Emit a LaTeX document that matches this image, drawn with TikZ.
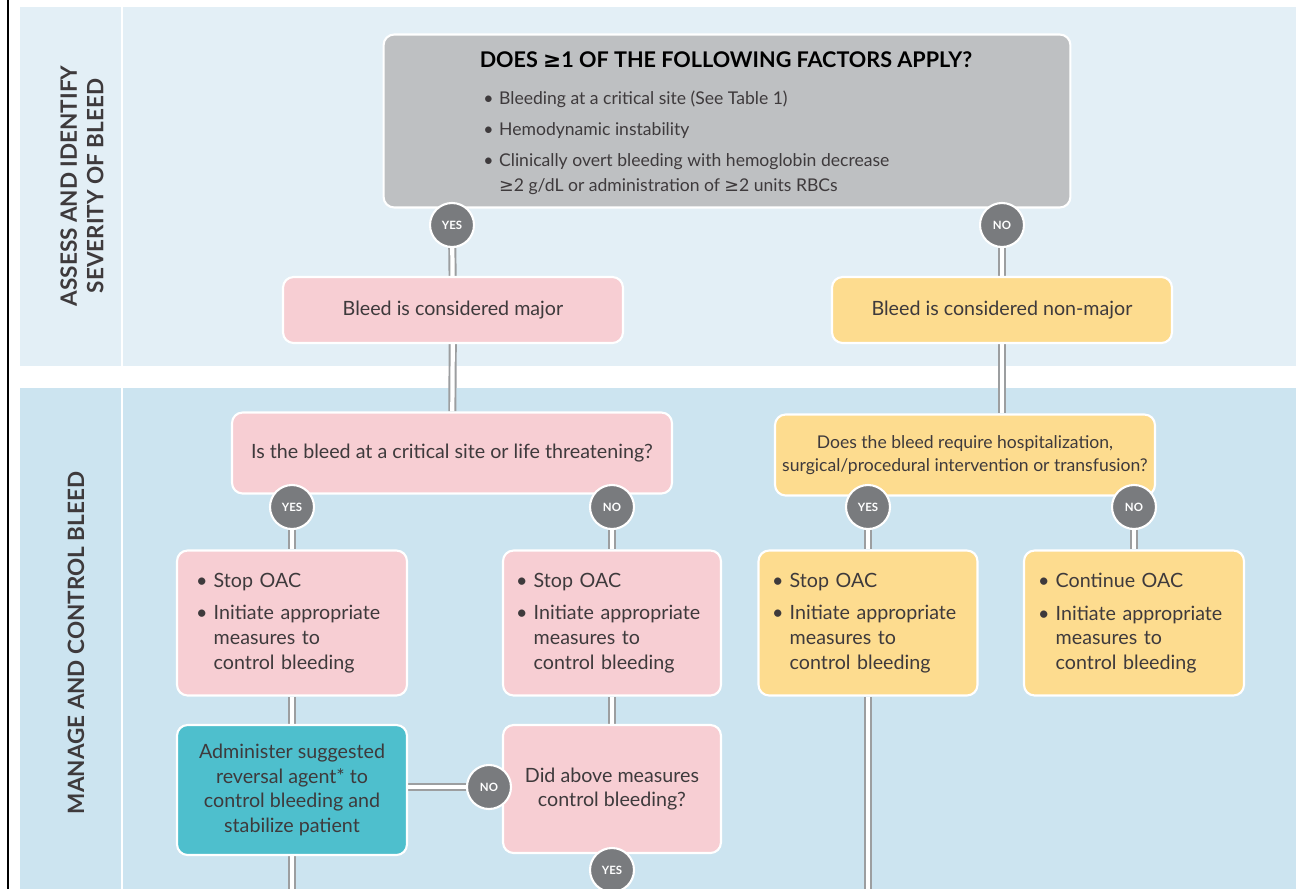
\documentclass[tikz,border=0pt]{standalone}
\usepackage{fontspec}
\setmainfont{Lato}
\newfontfamily\symfont{DejaVu Sans}
\usetikzlibrary{positioning}

% layers: colour bands at the back, then the double links, then the boxes
\pgfdeclarelayer{bands}
\pgfdeclarelayer{links}
\pgfsetlayers{bands,links,main}

\definecolor{bandtop}{HTML}{E3EFF6}
\definecolor{bandlow}{HTML}{CCE4F0}
\definecolor{factorgray}{HTML}{BEC0C2}
\definecolor{majorpink}{HTML}{F7CED3}
\definecolor{minoryellow}{HTML}{FDDC8F}
\definecolor{reverseteal}{HTML}{4EBFCD}
\definecolor{answergray}{HTML}{797B7E}
\definecolor{linkgray}{HTML}{9C9EA0}
\definecolor{textdark}{HTML}{3E3A3C}

\newcommand{\gte}{{\symfont ≥}}
\newcommand{\bitem}[1]{\makebox[0.9em][l]{\textbullet}#1}
\newcommand{\bcont}[1]{\hspace*{0.9em}#1}

\begin{document}
\begin{tikzpicture}[
    x=0.02cm, y=-0.02cm,
    box/.style={draw=white, line width=1.2pt, rounded corners=6pt, align=center, text=textdark,
      font=\fontsize{11.2}{14}\selectfont, inner sep=0pt},
    listbox/.style={box, align=left, text width=3.84cm, minimum width=4.6cm, minimum height=2.9cm},
    answer/.style={circle, fill=answergray, draw=white, line width=1.2pt, text=white,
      font=\fontsize{6.5}{7}\selectfont\bfseries, inner sep=0pt, minimum size=0.88cm},
    link/.style={draw=linkgray, line width=1.1pt, double=white, double distance=2.4pt},
    lane/.style={rotate=90, align=center, text=textdark, font=\fontsize{12.8}{15}\selectfont\bfseries}
  ]
    \useasboundingbox (0,0) rectangle (1296,889);
    \clip (0,0) rectangle (1296,889);

    % swim lanes
    \begin{pgfonlayer}{bands}
      \fill[white] (0,0) rectangle (1296,889);
      \fill[bandtop] (20,7) rectangle (1296,366);
      \fill[bandlow] (20,388) rectangle (1296,889);
      \draw[white, line width=1.5pt] (122,7) -- (122,366) (122,388) -- (122,889);
      \draw[black, line width=1.6pt] (8,0) -- (8,889);
    \end{pgfonlayer}
    \node[lane] (assessLane) at (82,186) {ASSESS AND IDENTIFY\\SEVERITY OF BLEED};
    \node[lane] (manageLane) at (76,643) {MANAGE AND CONTROL BLEED};

    % severity
    \node[box, fill=factorgray, minimum width=13.74cm, minimum height=3.46cm] (factors) at (727,121) {};
    \node[text=black, font=\fontsize{12.3}{14}\selectfont\bfseries] (factorsTitle) at (726,60)
      {DOES \gte1 OF THE FOLLOWING FACTORS APPLY?};
    \node[anchor=north west, align=left, text=textdark, font=\fontsize{10}{14}\selectfont, inner sep=0pt] (factorsList) at (483,91)
      {\bitem{Bleeding at a critical site (See Table 1)}\\[3.5pt]
       \bitem{Hemodynamic instability}\\[3.5pt]
       \bitem{Clinically overt bleeding with hemoglobin decrease}\\
       \bcont{\gte2 g/dL or administration of \gte2 units RBCs}};
    \node[answer] (yesA) at (452,225) {YES};
    \node[answer] (noA) at (1002,225) {NO};
    \node[box, fill=majorpink, minimum width=6.8cm, minimum height=1.32cm] (major) at (453,310) {Bleed is considered major};
    \node[box, fill=minoryellow, minimum width=6.8cm, minimum height=1.32cm] (nonmajor) at (1002,310) {Bleed is considered non-major};

    % management of a major bleed
    \node[box, fill=majorpink, minimum width=8.8cm, minimum height=1.62cm] (critical) at (452,453)
      {Is the bleed at a critical site or life threatening?};
    \node[answer] (yesB) at (292,507) {YES};
    \node[answer] (noB) at (612,507) {NO};
    \node[listbox, fill=majorpink] (stopA) at (292,623)
      {\bitem{Stop OAC}\\[4.5pt] \bitem{Initiate appropriate}\\ \bcont{measures to}\\ \bcont{control bleeding}};
    \node[listbox, fill=majorpink, minimum width=4.36cm] (stopB) at (612,623)
      {\bitem{Stop OAC}\\[4.5pt] \bitem{Initiate appropriate}\\ \bcont{measures to}\\ \bcont{control bleeding}};
    \node[box, fill=reverseteal, minimum width=4.6cm, minimum height=2.6cm] (reversal) at (292,790)
      {Administer suggested\\reversal agent* to\\control bleeding and\\stabilize patient};
    \node[box, fill=majorpink, minimum width=4.36cm, minimum height=2.56cm] (control) at (612,789)
      {Did above measures\\control bleeding?};
    \node[answer] (noD) at (489,787) {NO};
    \node[answer] (yesD) at (612,870) {YES};

    % management of a non-major bleed
    \node[box, fill=minoryellow, minimum width=7.6cm, minimum height=1.62cm, font=\fontsize{10}{13}\selectfont] (hospital) at (965,455)
      {Does the bleed require hospitalization,\\surgical/procedural intervention or transfusion?};
    \node[answer] (yesC) at (868,507) {YES};
    \node[answer] (noC) at (1134,507) {NO};
    \node[listbox, fill=minoryellow, minimum width=4.38cm] (stopC) at (868,623)
      {\bitem{Stop OAC}\\[4.5pt] \bitem{Initiate appropriate}\\ \bcont{measures to}\\ \bcont{control bleeding}};
    \node[listbox, fill=minoryellow, minimum width=4.4cm] (continueC) at (1134,623)
      {\bitem{Continue OAC}\\[4.5pt] \bitem{Initiate appropriate}\\ \bcont{measures to}\\ \bcont{control bleeding}};

    \coordinate (reversalOut) at (292,900);
    \coordinate (stopCOut) at (868,900);

    \begin{pgfonlayer}{links}
      \draw[link] (yesA) -- (major);
      \draw[link] (noA) -- (nonmajor);
      \draw[link] (major) -- (critical);
      \draw[link] (nonmajor) -- (nonmajor |- hospital.north);
      \draw[link] (yesB) -- (stopA);
      \draw[link] (noB) -- (stopB);
      \draw[link] (stopA) -- (reversal);
      \draw[link] (stopB) -- (control);
      \draw[link] (reversal) -- (reversalOut);
      \draw[link] (reversal.east |- noD) -- (noD);
      \draw[link] (yesC) -- (stopC);
      \draw[link] (noC) -- (continueC);
      \draw[link] (stopC) -- (stopCOut);
    \end{pgfonlayer}
  \end{tikzpicture}
\end{document}
